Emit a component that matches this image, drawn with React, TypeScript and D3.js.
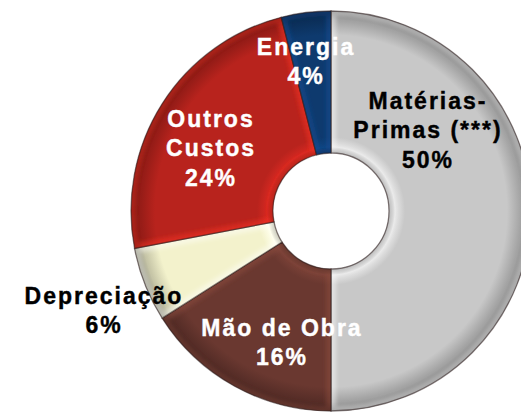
import React from "react";
import * as d3 from "d3";

const categories = ["Matérias-Primas (***)", "Mão de Obra", "Depreciação", "Outros Custos", "Energia"];
const labelLines = [["Matérias-", "Primas (***)"], ["Mão de Obra"], ["Depreciação"], ["Outros", "Custos"], ["Energia"]];
const values = [50, 16, 6, 24, 4];
const colors = ["#c8c8c8", "#6a3830", "#f3f2cc", "#b8231d", "#0e3a6e"];
const textColors = ["#000000", "#ffffff", "#000000", "#ffffff", "#ffffff"];

const W = 521;
const H = 412;
const CX = 331;
const CY = 211;
const R_OUT = 200;
const R_IN = 58;
// label block centers, as offsets from the donut centre
const labelOffsets: [number, number][] = [
  [96, -81],
  [-50, 131],
  [-228, 99],
  [-121, -63],
  [-26, -150],
];
const FONT = 23;
const LH = 29.5;
const CAP = 16.5;
const SPACING = 2.0;

export default function App() {
  const pie = d3.pie<number>().sort(null).value((d) => d)(values);
  const arc = d3.arc<d3.PieArcDatum<number>>().innerRadius(R_IN).outerRadius(R_OUT);
  const total = d3.sum(values);
  const ri = R_IN / R_OUT;

  return (
    <svg width={W} height={H} style={{ position: "absolute", left: 0, top: 0, background: "#fff" }}>
      <defs>
        <filter id="soft" x="-10%" y="-10%" width="120%" height="120%">
          <feGaussianBlur stdDeviation={2.2} />
        </filter>
        {colors.map((c, i) => {
          const base = d3.color(c)!;
          return (
            <radialGradient key={i} id={`g${i}`} gradientUnits="userSpaceOnUse" cx={0} cy={0} r={R_OUT}>
              <stop offset={ri} stopColor={base.darker(1.2).formatHex()} />
              <stop offset={ri + 0.03} stopColor={base.brighter(0.4).formatHex()} />
              <stop offset={ri + 0.08} stopColor={base.formatHex()} />
              <stop offset={0.88} stopColor={base.formatHex()} />
              <stop offset={0.955} stopColor={base.darker(0.6).formatHex()} />
              <stop offset={1} stopColor={base.darker(2).formatHex()} />
            </radialGradient>
          );
        })}
        {pie.map((p, i) => (
          <clipPath key={`c${i}`} id={`c${i}`}>
            <path d={arc(p) || ""} />
          </clipPath>
        ))}
      </defs>
      <g transform={`translate(${CX},${CY})`}>
        {pie.map((p, i) => (
          <g key={categories[i]}>
            <path d={arc(p) || ""} fill={`url(#g${i})`} />
            <g clipPath={`url(#c${i})`}>
              <path
                d={arc(p) || ""}
                fill="none"
                stroke={d3.color(colors[i])!.brighter(0.9).formatHex()}
                strokeOpacity={0.45}
                strokeWidth={10}
                filter="url(#soft)"
              />
            </g>
            <path d={arc(p) || ""} fill="none" stroke="#2a1a1a" strokeOpacity={0.55} strokeWidth={1.3} />
          </g>
        ))}
        {pie.map((p, i) => {
          const lines = [...labelLines[i], `${Math.round((values[i] / total) * 100)}%`];
          const [ox, oy] = labelOffsets[i];
          const first = oy - ((lines.length - 1) * LH) / 2 + CAP / 2;
          return (
            <text
              key={`t${i}`}
              textAnchor="middle"
              fill={textColors[i]}
              fontFamily="'Liberation Sans', Arial, sans-serif"
              fontWeight={700}
              fontSize={FONT}
              stroke={textColors[i]}
              strokeWidth={0.4}
              letterSpacing={SPACING}
            >
              {lines.map((ln, j) => (
                <tspan key={j} x={ox + SPACING / 2} y={first + j * LH}>
                  {ln}
                </tspan>
              ))}
            </text>
          );
        })}
      </g>
    </svg>
  );
}
